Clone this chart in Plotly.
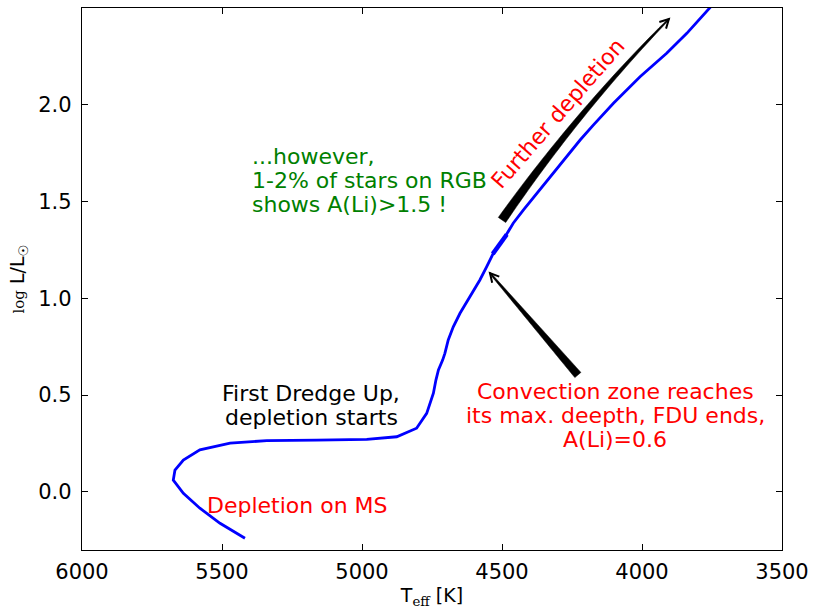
import math
import plotly.graph_objects as go

# ---- data: evolutionary track (Teff [K], log L/Lsun) ----
teff = [5418, 5507, 5579, 5638, 5674, 5668, 5638, 5579, 5471, 5340, 5162, 4983,
        4876, 4805, 4769, 4745, 4736, 4727, 4712, 4704, 4692, 4674, 4650, 4614,
        4579, 4555, 4531, 4489, 4460, 4424, 4376, 4329, 4269, 4221, 4174, 4102,
        4007, 3912, 3840, 3757, 3746]
logl = [-0.239, -0.162, -0.084, -0.007, 0.061, 0.113, 0.165, 0.217, 0.252, 0.265,
        0.268, 0.272, 0.285, 0.329, 0.406, 0.510, 0.578, 0.630, 0.681, 0.716,
        0.785, 0.853, 0.923, 1.008, 1.095, 1.163, 1.233, 1.318, 1.388, 1.456,
        1.543, 1.628, 1.732, 1.818, 1.895, 2.008, 2.145, 2.266, 2.369, 2.498,
        2.520]
# short overlapping (thicker) segment of the track
seg_teff = [4533, 4483]
seg_logl = [1.230, 1.330]

x_ticks = [6000, 5500, 5000, 4500, 4000, 3500]
y_ticks = [0.0, 0.5, 1.0, 1.5, 2.0]
X_RANGE = [6000, 3500]
Y_RANGE = [-0.3, 2.5]

# ---- layout geometry ----
W, H = 814, 609
ML, MR, MT, MB = 82, 32, 8, 59
PW, PH = W - ML - MR, H - MT - MB
KX = PW / abs(X_RANGE[1] - X_RANGE[0])
KY = PH / (Y_RANGE[1] - Y_RANGE[0])


def to_px(t, l):
    return ((X_RANGE[0] - t) * KX, (Y_RANGE[1] - l) * KY)


def from_px(px, py):
    return (X_RANGE[0] - px / KX, Y_RANGE[1] - py / KY)


def arrow_shapes(tail, head, w0, w1, bend=0.0, head_len=10, head_ang=28):
    p0 = to_px(*tail)
    p2 = to_px(*head)
    dx, dy = p2[0] - p0[0], p2[1] - p0[1]
    ln = math.hypot(dx, dy)
    nx, ny = -dy / ln, dx / ln
    p1 = ((p0[0] + p2[0]) / 2 + bend * nx, (p0[1] + p2[1]) / 2 + bend * ny)
    left, right = [], []
    N = 40
    for i in range(N + 1):
        t = i / N
        bx = (1 - t) ** 2 * p0[0] + 2 * (1 - t) * t * p1[0] + t * t * p2[0]
        by = (1 - t) ** 2 * p0[1] + 2 * (1 - t) * t * p1[1] + t * t * p2[1]
        tx = 2 * (1 - t) * (p1[0] - p0[0]) + 2 * t * (p2[0] - p1[0])
        ty = 2 * (1 - t) * (p1[1] - p0[1]) + 2 * t * (p2[1] - p1[1])
        tl = math.hypot(tx, ty)
        ux, uy = -ty / tl, tx / tl
        w = w0 + (w1 - w0) * t
        left.append((bx + ux * w / 2, by + uy * w / 2))
        right.append((bx - ux * w / 2, by - uy * w / 2))
        if i == N:
            dirx, diry = tx / tl, ty / tl
    poly = left + right[::-1]
    pts = [from_px(*p) for p in poly]
    path = "M " + " L ".join(f"{a:.3f},{b:.5f}" for a, b in pts) + " Z"
    a = math.radians(head_ang)
    arms = []
    for s in (1, -1):
        cx = p2[0] - head_len * (dirx * math.cos(a) - s * diry * math.sin(a))
        cy = p2[1] - head_len * (diry * math.cos(a) + s * dirx * math.sin(a))
        arms.append(from_px(cx, cy))
    tip = from_px(*p2)
    hpath = (f"M {arms[0][0]:.3f},{arms[0][1]:.5f} L {tip[0]:.3f},{tip[1]:.5f} "
             f"L {arms[1][0]:.3f},{arms[1][1]:.5f}")
    return [
        dict(type="path", path=path, xref="x", yref="y", fillcolor="black",
             line=dict(color="black", width=0.5), layer="above"),
        dict(type="path", path=hpath, xref="x", yref="y",
             line=dict(color="black", width=2), layer="above"),
    ]


fig = go.Figure()
fig.add_trace(go.Scatter(x=teff, y=logl, mode="lines",
                         line=dict(color="#0000ff", width=2.8), hoverinfo="skip"))
fig.add_trace(go.Scatter(x=seg_teff, y=seg_logl, mode="lines",
                         line=dict(color="#0000ff", width=4.5), hoverinfo="skip"))

shapes = []
shapes += arrow_shapes((4500, 1.405), (3904, 2.443), 9, 1.5, bend=-11)
shapes += arrow_shapes((4229, 0.604), (4543, 1.131), 8, 1.5, bend=0)

FONT = "DejaVu Sans"
TXT = 22
LINE_GAP = 24
annotations = []


def text_block(x, y, lines, color, xanchor="center", angle=0):
    n = len(lines)
    for i, line in enumerate(lines):
        annotations.append(dict(
            x=x, y=y, xref="x", yref="y", text=line, showarrow=False,
            xanchor=xanchor, yanchor="middle", align=xanchor if xanchor != "center" else "center",
            yshift=((n - 1) / 2 - i) * LINE_GAP, textangle=angle,
            font=dict(color=color, size=TXT, family=FONT)))


text_block(5182, 0.449, ["First Dredge Up,", "depletion starts"], "black")
text_block(5230, -0.068, ["Depletion on MS"], "#ff0000")
text_block(4096, 0.397, ["Convection zone reaches", "its max. deepth, FDU ends,",
                         "A(Li)=0.6"], "#ff0000")
text_block(5400, 1.611, ["...however,", "1-2% of stars on RGB", "shows A(Li)>1.5 !"],
           "#008000", xanchor="left")
text_block(4300, 1.955, ["Further depletion"], "#ff0000", angle=-49)

fig.update_layout(
    width=W, height=H,
    margin=dict(l=ML, r=MR, t=MT, b=MB, pad=0),
    paper_bgcolor="white", plot_bgcolor="white",
    showlegend=False,
    font=dict(family=FONT, color="black"),
    shapes=shapes,
    annotations=annotations,
)
fig.update_xaxes(
    range=X_RANGE, tickmode="array", tickvals=x_ticks,
    ticktext=[str(v) for v in x_ticks],
    ticks="inside", ticklen=6, tickwidth=1, tickcolor="black",
    showline=True, linecolor="black", linewidth=1.3, mirror="allticks",
    showgrid=False, zeroline=False, tickfont=dict(size=21, family=FONT),
    ticklabelstandoff=3, automargin=False,
    title=dict(text="T<sub><span style='font-family:DejaVu Serif'>eff</span></sub> [K]",
               font=dict(size=19, family=FONT), standoff=7),
)
fig.update_yaxes(
    range=Y_RANGE, tickmode="array", tickvals=y_ticks,
    ticktext=[f"{v:.1f}" for v in y_ticks],
    ticks="inside", ticklen=6, tickwidth=1, tickcolor="black",
    showline=True, linecolor="black", linewidth=1.3, mirror="allticks",
    showgrid=False, zeroline=False, tickfont=dict(size=21, family=FONT),
    ticklabelstandoff=5, automargin=False,
    title=dict(text="<span style='font-family:DejaVu Serif;font-size:15px'>log</span> L/L<sub>☉</sub>",
               font=dict(size=19, family=FONT), standoff=8),
)

fig.write_html(
    "out.html", config={"displayModeBar": False},
    post_script=("document.documentElement.style.overflow='hidden';"
                 "document.body.style.margin='0px';"
                 "document.body.style.overflow='hidden';"),
)
